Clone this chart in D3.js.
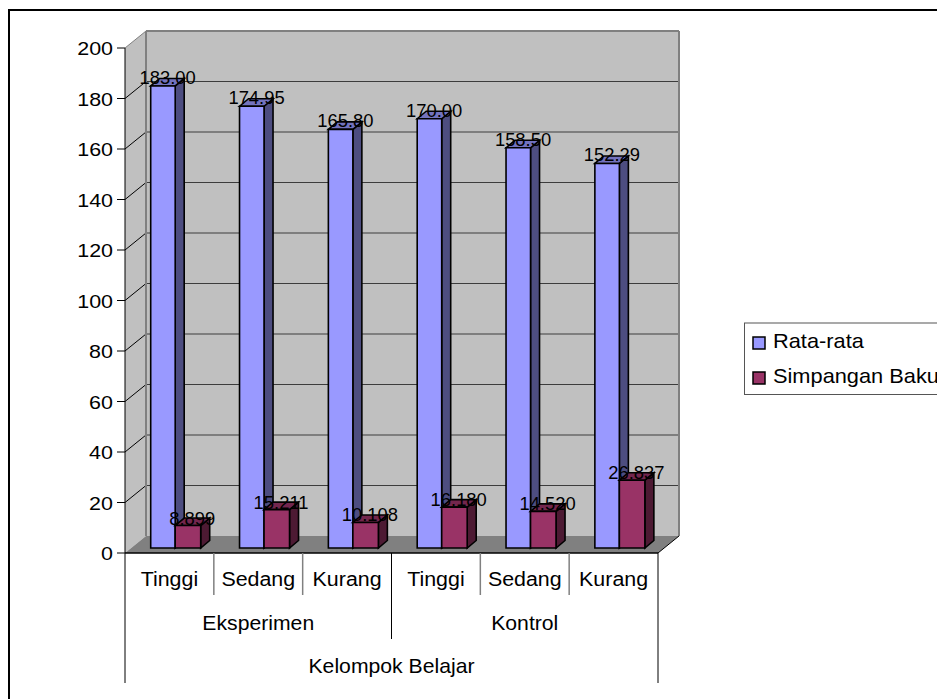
<!DOCTYPE html>
<html><head><meta charset="utf-8">
<script src="https://cdn.jsdelivr.net/npm/d3@7/dist/d3.min.js"></script>
<style>
html,body{margin:0;padding:0;background:#fff;overflow:hidden}
svg{display:block}
text{font-family:"Liberation Sans",Arial,sans-serif;fill:#000}
</style></head><body>
<svg id="chart" width="937" height="699"></svg>
<script>
// Group means and standard deviations per learning group
const groups = ["Eksperimen", "Kontrol"];
const levels = ["Tinggi", "Sedang", "Kurang", "Tinggi", "Sedang", "Kurang"];
const rataRata = [183.00, 174.95, 165.80, 170.00, 158.50, 152.29];
const simpanganBaku = [8.899, 15.211, 10.108, 16.180, 14.520, 26.837];
const rataLabels = ["183.00", "174.95", "165.80", "170.00", "158.50", "152.29"];
const sdLabels = ["8.899", "15.211", "10.108", "16.180", "14.520", "26.837"];
const seriesNames = ["Rata-rata", "Simpangan Baku"];
const axisTitle = "Kelompok Belajar";
const yTicks = [0, 20, 40, 60, 80, 100, 120, 140, 160, 180, 200];

const svg = d3.select("#chart");

// Front plane of the oblique 3D box; the back wall is shifted by depth
const y = d3.scaleLinear().domain([0, 200]).range([553, 48]);
const x = d3.scaleBand().domain(d3.range(6)).range([125, 658]);
const depth = {dx: 21, dy: -17};
const barDepth = {dx: 9, dy: -7.5};
const barInset = {x: 25.7, y: -5};
const barW = 24.5;

const poly = (pts, fill, stroke, sw) => svg.append("polygon")
  .attr("points", pts.map(p => p.join(",")).join(" "))
  .attr("fill", fill).attr("stroke", stroke || "none").attr("stroke-width", sw || 0);
const line = (x1, y1, x2, y2, stroke, sw) => svg.append("line")
  .attr("x1", x1).attr("y1", y1).attr("x2", x2).attr("y2", y2)
  .attr("stroke", stroke).attr("stroke-width", sw);
// Text is drawn slightly widened, as the chart's lettering is broad
const label = (px, py, str, size, anchor, sx) => svg.append("text")
  .attr("transform", `translate(${px},${py}) scale(${sx},1)`)
  .attr("text-anchor", anchor).attr("font-size", size).text(str);

// Outer frame: top and left edges
line(9, 10, 937, 10, "#000", 2);
line(9, 9, 9, 699, "#000", 2);

const L = x.range()[0], R = x.range()[1], B = y(0), T = y(200);

// Back wall, side wall and floor
poly([[L + depth.dx, T + depth.dy], [R + depth.dx, T + depth.dy], [R + depth.dx, B + depth.dy], [L + depth.dx, B + depth.dy]], "#c0c0c0");
poly([[L, T], [L + depth.dx, T + depth.dy], [L + depth.dx, B + depth.dy], [L, B]], "#c0c0c0");
poly([[L, B], [L + depth.dx, B + depth.dy], [R + depth.dx, B + depth.dy], [R, B]], "#808080");

// Gridlines run along the side wall and across the back wall
yTicks.forEach(t => {
  if (t > 0 && t < 200) line(L + depth.dx, y(t) + depth.dy, R + depth.dx, y(t) + depth.dy, "#3c3c3c", 1);
  if (t > 0) line(L, y(t), L + depth.dx, y(t) + depth.dy, t === 200 ? "#808080" : "#000", 1);
});

// Wall outlines
line(L + depth.dx, T + depth.dy, R + depth.dx, T + depth.dy, "#808080", 2);
line(L + depth.dx, T + depth.dy, L + depth.dx, B + depth.dy, "#808080", 2);
line(R + depth.dx, T + depth.dy, R + depth.dx, B + depth.dy, "#808080", 2);
line(R, B, R + depth.dx, B + depth.dy, "#000", 1);

// One 3D bar: front face, side face and top face
function bar(x0, value, w, front, side, top) {
  const x1 = x0 + w, y1 = y(value) + barInset.y, y0 = B + barInset.y;
  const d = barDepth;
  poly([[x1, y1], [x1 + d.dx, y1 + d.dy], [x1 + d.dx, y0 + d.dy], [x1, y0]], side, "#000", 1.6);
  poly([[x0, y1], [x0 + d.dx, y1 + d.dy], [x1 + d.dx, y1 + d.dy], [x1, y1]], top, "#000", 1.6);
  poly([[x0, y1], [x1, y1], [x1, y0], [x0, y0]], front, "#000", 1.6);
}

rataRata.forEach((v, i) => {
  const x0 = x(i) + barInset.x;
  bar(x0, v, barW, "#9999ff", "#4d4d80", "#7373bf");
  bar(x0 + barW, simpanganBaku[i], barW + 1, "#993366", "#4d1a33", "#73264d");
});

// Value labels sit over the bar tops
rataRata.forEach((v, i) => {
  label(x(i) + barInset.x + 17, y(v) - 7, rataLabels[i], 17.5, "middle", 1.05);
});
simpanganBaku.forEach((v, i) => {
  label(x(i) + barInset.x + 41.5, y(v) - 6, sdLabels[i], 17.5, "middle", 1.05);
});

// Value axis
line(L, T, L, 683, "#000", 1);
yTicks.forEach(t => {
  line(L - 8, y(t), L, y(t), "#000", 1);
  label(L - 12, y(t) + 7, t, 19, "end", 1.13);
});

// Multi-level category axis
line(L, B, R, B, "#000", 1.5);
levels.forEach((lab, i) => {
  label(x(i) + x.bandwidth() / 2, 586, lab, 20, "middle", 1.07);
  if (i > 0 && i !== 3) line(x(i), B, x(i), 595, "#808080", 1.5);
});
groups.forEach((g, i) => {
  label(x(i * 3) + x.bandwidth() * 1.5, 630, g, 20, "middle", 1.06);
});
line(x(3), B, x(3), 639, "#000", 1);
line(R, B, R, 683, "#000", 1);
label((L + R) / 2, 673, axisTitle, 20, "middle", 1.06);

// Legend, clipped by the right edge of the page
svg.append("rect").attr("x", 744.5).attr("y", 323).attr("width", 220).attr("height", 71.5)
  .attr("fill", "#fff").attr("stroke", "#555").attr("stroke-width", 1);
[["#9999ff", 0], ["#993366", 1]].forEach(([c, i]) => {
  const cy = 343 + i * 35;
  svg.append("rect").attr("x", 753).attr("y", cy - 6).attr("width", 12).attr("height", 12)
    .attr("fill", c).attr("stroke", "#000").attr("stroke-width", 1.5);
  label(773, cy + 5, seriesNames[i], 20, "start", 1.09);
});
</script></body></html>
